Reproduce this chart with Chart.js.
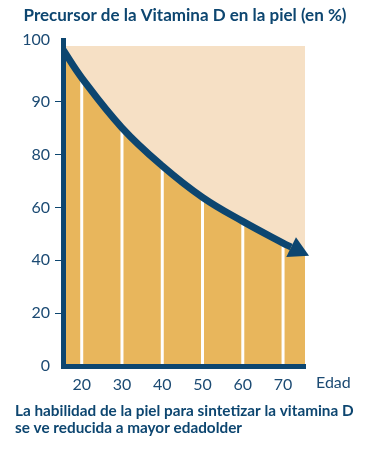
<!DOCTYPE html>
<html>
<head>
<meta charset="utf-8">
<script src="https://cdn.jsdelivr.net/npm/chart.js@4.4.0/dist/chart.umd.min.js"></script>
<style>
  body { margin: 0; background: #fff; }
</style>
</head>
<body>
<canvas id="chart" width="369" height="450"></canvas>
<script>
// edad (años) y precursor en unidades del eje
var edades = [15.35, 20, 30, 40, 50, 60, 70, 72];
var precursor = [119.6, 109.0, 90.1, 75.7, 63.8, 54.7, 46.5, 45.0];
var edadesRelleno = [15.35, 20, 30, 40, 50, 60, 70, 75.45];
var precursorRelleno = [119.6, 109.0, 90.1, 75.7, 63.8, 54.7, 46.5, 43.0];
var edadesFondo = [15.35, 75.45];
var fondo = [121, 121];

var xTicks = [20, 30, 40, 50, 60, 70];
var yTicks = [0, 20, 40, 60, 80, 100, 123.3];
var yLabels = ['0', '20', '40', '60', '80', '90', '100'];

var titulo = 'Precursor de la Vitamina D en la piel (en %)';
var pie = ['La habilidad de la piel para sintetizar la vitamina D', 'se ve reducida a mayor edadolder'];
var ejeX = 'Edad';

var azul = '#0d4670';
var azulTexto = '#1b4a73';

function puntos(xs, ys) {
    return xs.map(function (x, i) { return {x: x, y: ys[i]}; });
}

var extras = {
    id: 'extras',
    beforeDatasetDraw: function (chart, args) {
        if (args.index !== 0) return;
        var ctx = chart.ctx;
        var bottom = chart.chartArea.bottom;
        ctx.save();
        ctx.strokeStyle = '#ffffff';
        ctx.lineWidth = 3;
        args.meta.data.forEach(function (p, i) {
            if (xTicks.indexOf(edades[i]) < 0) return;
            ctx.beginPath();
            ctx.moveTo(p.x, bottom);
            ctx.lineTo(p.x, p.y);
            ctx.stroke();
        });
        ctx.restore();
    },
    afterDatasetsDraw: function (chart) {
        // punta de flecha al final de la curva
        var pts = chart.getDatasetMeta(0).data;
        var a = pts[pts.length - 2], b = pts[pts.length - 1];
        var dx = b.x - a.x, dy = b.y - a.y;
        var len = Math.sqrt(dx * dx + dy * dy);
        var ux = dx / len, uy = dy / len;
        var ctx = chart.ctx;
        ctx.save();
        ctx.fillStyle = azul;
        ctx.beginPath();
        ctx.moveTo(b.x + ux * 20, b.y + uy * 20);
        ctx.lineTo(b.x - uy * 11, b.y + ux * 11);
        ctx.lineTo(b.x + uy * 11, b.y - ux * 11);
        ctx.closePath();
        ctx.fill();
        ctx.restore();
    },
    afterDraw: function (chart) {
        var ctx = chart.ctx;
        var area = chart.chartArea;
        ctx.save();
        ctx.fillStyle = azul;
        ctx.textBaseline = 'middle';
        ctx.font = 'bold 17px Lato';
        ctx.textAlign = 'center';
        ctx.fillText(titulo, 185, 16);
        ctx.font = 'bold 15.3px Lato';
        ctx.textAlign = 'left';
        ctx.fillText(pie[0], 15, 411);
        ctx.fillText(pie[1], 15, 428);
        ctx.fillStyle = azulTexto;
        ctx.font = '16px Lato';
        ctx.fillText(ejeX, area.right + 11, 383);
        ctx.restore();
    }
};

var ctx = document.getElementById('chart').getContext('2d');
var chart = new Chart(ctx, {
    type: 'line',
    data: {
        datasets: [{
            data: puntos(edades, precursor),
            borderColor: azul,
            borderWidth: 7,
            pointRadius: 0,
            fill: false,
            tension: 0.4
        },
        {
            data: puntos(edadesRelleno, precursorRelleno),
            borderWidth: 0,
            pointRadius: 0,
            backgroundColor: '#e8b65c',
            fill: 'origin',
            tension: 0.4
        },
        {
            data: puntos(edadesFondo, fondo),
            borderWidth: 0,
            pointRadius: 0,
            backgroundColor: '#f6e0c5',
            fill: 'origin'
        }]
    },
    options: {
        responsive: false,
        animation: false,
        events: [],
        layout: { padding: { left: 0, right: 64, top: 40, bottom: 54 } },
        plugins: {
            legend: { display: false },
            tooltip: { enabled: false }
        },
        scales: {
            x: {
                type: 'linear',
                min: 15.35,
                max: 75.45,
                afterFit: function (s) { s.height = 30; },
                afterBuildTicks: function (s) {
                    s.ticks = xTicks.map(function (v) { return {value: v}; });
                },
                grid: { display: false, drawTicks: false },
                border: { display: true, color: azul, width: 5, z: 1 },
                ticks: {
                    color: azulTexto,
                    font: { family: 'Lato', size: 16 },
                    padding: 9,
                    maxRotation: 0
                }
            },
            y: {
                min: 0,
                max: 123.3,
                afterFit: function (s) { s.width = 63; },
                afterBuildTicks: function (s) {
                    s.ticks = yTicks.map(function (v) { return {value: v}; });
                },
                grid: {
                    drawOnChartArea: false,
                    drawTicks: true,
                    tickLength: 8,
                    lineWidth: 1,
                    color: function (c) {
                        var v = c.tick ? c.tick.value : 0;
                        return (v === 0 || v === yTicks[yTicks.length - 1]) ? 'rgba(0,0,0,0)' : azul;
                    }
                },
                border: { display: true, color: azul, width: 5, z: 1 },
                ticks: {
                    color: azulTexto,
                    font: { family: 'Lato', size: 16 },
                    padding: 5,
                    callback: function (v, i) { return yLabels[i]; }
                }
            }
        }
    },
    plugins: [extras]
});
</script>
</body>
</html>
